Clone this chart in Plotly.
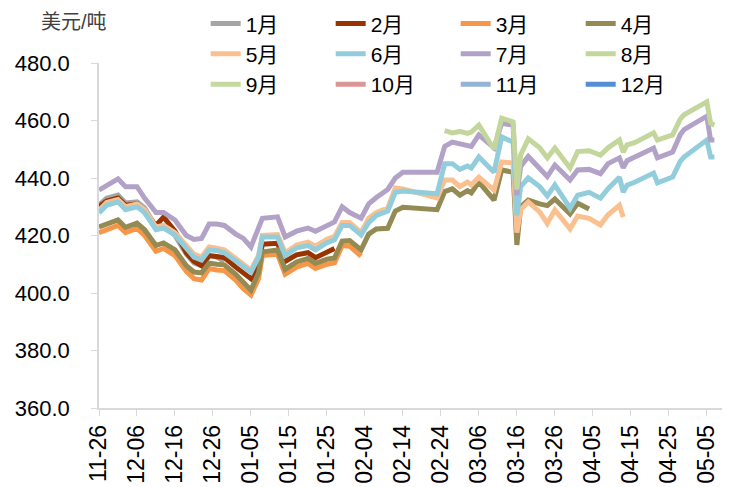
import plotly.graph_objects as go

# Trading dates (2022-11-26 .. 2023-05-07)
dates = [
    "2022-11-26", "2022-11-28", "2022-12-01", "2022-12-03", "2022-12-06",
    "2022-12-08", "2022-12-11", "2022-12-13", "2022-12-16", "2022-12-19",
    "2022-12-21", "2022-12-23", "2022-12-25", "2022-12-27", "2022-12-29",
    "2023-01-01", "2023-01-03", "2023-01-05", "2023-01-07", "2023-01-08",
    "2023-01-12", "2023-01-14", "2023-01-17", "2023-01-20", "2023-01-22",
    "2023-01-25", "2023-01-27", "2023-01-29", "2023-01-31", "2023-02-03",
    "2023-02-05", "2023-02-07", "2023-02-10", "2023-02-12", "2023-02-14",
    "2023-02-23", "2023-02-25", "2023-02-27", "2023-03-01", "2023-03-03",
    "2023-03-04", "2023-03-06", "2023-03-10", "2023-03-12", "2023-03-15",
    "2023-03-16", "2023-03-17", "2023-03-19", "2023-03-22", "2023-03-24",
    "2023-03-26", "2023-03-30", "2023-04-01", "2023-04-04", "2023-04-07",
    "2023-04-09", "2023-04-12", "2023-04-13", "2023-04-14", "2023-04-16",
    "2023-04-21", "2023-04-22", "2023-04-26", "2023-04-28", "2023-04-29",
    "2023-05-05", "2023-05-06", "2023-05-07",
]

N = None

jan = [430.6, 433.0, 434.1, 431.3, 431.7,
       429.6, 423.0, 423.5, 420.0, 413.5,
       410.5, 409.5, 413.0, 412.5, 411.0] + [N] * 53

feb = [430.0, 432.0, 433.0, 430.5, 431.0,
       428.2, 423.5, 426.4, 421.5, 414.0,
       411.0, 409.5, 413.0, 412.7, 412.3,
       409.0, 407.0, 405.0, 409.0, 417.0,
       417.3, 411.0, 413.3, 414.0, 412.3,
       414.5, 415.5] + [N] * 41

mar = [421.0, 422.0, 423.5, 421.0, 422.5,
       420.0, 414.5, 415.5, 413.0, 407.5,
       405.0, 404.5, 408.5, 408.0, 407.8,
       404.5, 401.5, 399.3, 405.0, 413.0,
       413.5, 406.5, 409.0, 410.3, 408.5,
       410.0, 410.5, 416.5, 416.3, 412.8] + [N] * 38

apr = [423.0, 424.0, 425.4, 422.8, 424.3,
       422.0, 416.5, 417.4, 415.0, 409.5,
       407.3, 407.0, 410.4, 410.0, 409.8,
       406.5, 403.5, 401.0, 407.0, 414.3,
       415.0, 408.2, 410.8, 412.0, 410.3,
       411.8, 412.2, 418.0, 418.2, 415.0,
       420.5, 422.3, 422.5, 428.5, 429.8,
       429.0, 435.3, 436.2, 434.0, 435.6,
       434.8, 438.6, 432.3, 442.8, 442.0,
       416.7, 430.0, 432.3, 431.0, 430.4,
       432.7, 427.5, 431.2, 429.2] + [N] * 14

may = [428.8, 431.5, 432.5, 430.0, 431.0,
       429.0, 423.0, 423.5, 421.0, 416.5,
       413.5, 412.5, 416.0, 415.6, 415.0,
       412.0, 410.0, 408.0, 413.0, 420.0,
       420.3, 414.0, 416.7, 417.7, 416.3,
       418.7, 419.7, 424.5, 424.5, 421.0,
       426.0, 428.0, 429.5, 436.5, 436.2,
       433.0, 439.3, 439.3, 437.0, 438.6,
       437.6, 440.3, 435.8, 445.6, 445.2,
       421.0, 429.0, 431.7, 428.2, 424.2,
       428.9, 422.3, 426.8, 426.0, 423.7,
       427.2, 430.5, 426.4] + [N] * 10

jun = [427.8, 430.5, 431.7, 429.0, 430.0,
       428.0, 422.0, 422.6, 420.2, 415.5,
       412.5, 411.5, 415.0, 414.8, 414.0,
       411.2, 409.2, 407.2, 412.5, 419.5,
       419.5, 413.0, 415.7, 416.5, 415.0,
       417.5, 418.5, 423.5, 423.5, 420.2,
       424.5, 427.0, 428.5, 435.0, 435.5,
       434.5, 445.0, 445.0, 443.0, 444.2,
       443.5, 447.3, 442.0, 454.3, 452.5,
       427.0, 437.0, 440.0, 437.0, 433.8,
       437.6, 429.5, 434.0, 435.0, 433.0,
       436.3, 440.3, 435.1, 437.5, 438.5,
       441.7, 438.3, 440.3, 445.8, 447.3,
       453.2, 447.3, 447.3]

jul = [435.8, 437.5, 439.7, 437.0, 437.0,
       433.0, 428.0, 428.0, 425.4, 420.0,
       418.6, 419.0, 424.0, 424.0, 423.5,
       420.5, 419.0, 416.0, 423.0, 426.0,
       426.5, 419.5, 421.5, 422.6, 421.5,
       423.5, 424.7, 430.0, 428.0, 426.0,
       431.0, 433.2, 436.0, 440.0, 442.0,
       442.0, 451.0, 452.5, 452.0, 451.5,
       451.0, 455.0, 450.5, 459.0, 458.4,
       434.0, 444.0, 447.5, 443.5, 440.5,
       444.5, 439.3, 442.8, 443.0, 441.5,
       445.0, 447.0, 443.5, 446.0, 447.2,
       450.4, 447.0, 449.0, 455.0, 456.8,
       461.5, 453.2, 453.2]

aug = [N] * 36 + [
       456.5, 455.7, 456.2, 455.5,
       456.0, 458.4, 450.0, 460.8, 459.5,
       436.0, 448.0, 453.6, 450.5, 447.0,
       450.4, 443.5, 449.2, 449.5, 448.0,
       450.5, 453.2, 449.0, 451.5, 452.3,
       455.7, 453.2, 455.0, 460.5, 462.0,
       466.5, 459.0, 458.4]

sep = [N] * 68
oct_ = [N] * 68
nov = [N] * 68
dec = [N] * 68

months = ["1月", "2月", "3月", "4月", "5月", "6月",
          "7月", "8月", "9月", "10月", "11月", "12月"]
series = [jan, feb, mar, apr, may, jun, jul, aug, sep, oct_, nov, dec]
colors = ["#A5A5A5", "#993300", "#F79646", "#948A54",
          "#FAC090", "#92CDDC", "#B3A2C7", "#C3D69B",
          "#C6D9A0", "#DA9694", "#95B3D7", "#558ED5"]

FONT = "Liberation Sans, Arial, Noto Sans CJK SC, sans-serif"

fig = go.Figure()
for i, (name, vals, col) in enumerate(zip(months, series, colors)):
    # legend laid out as 4 columns: (1,5,9), (2,6,10), (3,7,11), (4,8,12)
    fig.add_trace(go.Scatter(
        x=dates, y=vals, name=name, mode="lines",
        line=dict(color=col, width=5),
        connectgaps=False,
        legendgroup=f"col{i % 4}",
    ))

fig.update_layout(
    width=732, height=487,
    margin=dict(l=99, r=10, t=63, b=79, autoexpand=False),
    paper_bgcolor="white", plot_bgcolor="white",
    font=dict(family=FONT, color="black"),
    showlegend=True,
    legend=dict(
        orientation="h", xref="container", yref="container",
        x=0.281, y=0.993, xanchor="left", yanchor="top",
        entrywidth=80, entrywidthmode="pixels",
        traceorder="grouped", tracegroupgap=0,
        font=dict(size=21, family=FONT, color="black"),
        bgcolor="rgba(0,0,0,0)", groupclick="toggleitem",
    ),
    xaxis=dict(
        type="date", automargin=False,
        range=["2022-11-26", "2023-05-09"],
        tick0="2022-11-26", dtick=864000000,
        tickformat="%m-%d", tickangle=-90,
        ticks="outside", ticklen=6, tickcolor="#D9D9D9",
        showline=True, linecolor="#D9D9D9", linewidth=1.5,
        showgrid=False, zeroline=False,
        tickfont=dict(size=23, family=FONT, color="black"),
    ),
    yaxis=dict(
        automargin=False,
        range=[360, 480], dtick=20, tick0=360,
        tickformat=".1f",
        ticks="outside", ticklen=6, tickcolor="#D9D9D9",
        showline=True, linecolor="#D9D9D9", linewidth=1.5,
        showgrid=False, zeroline=False,
        ticklabelstandoff=17,
        tickfont=dict(size=22, family=FONT, color="black"),
    ),
    annotations=[dict(
        text="美元/吨", xref="paper", yref="paper",
        x=-0.04, y=1.12, xanchor="center", yanchor="middle",
        showarrow=False,
        font=dict(size=20, family=FONT, color="#404040"),
    )],
)

fig.write_html("out.html")
